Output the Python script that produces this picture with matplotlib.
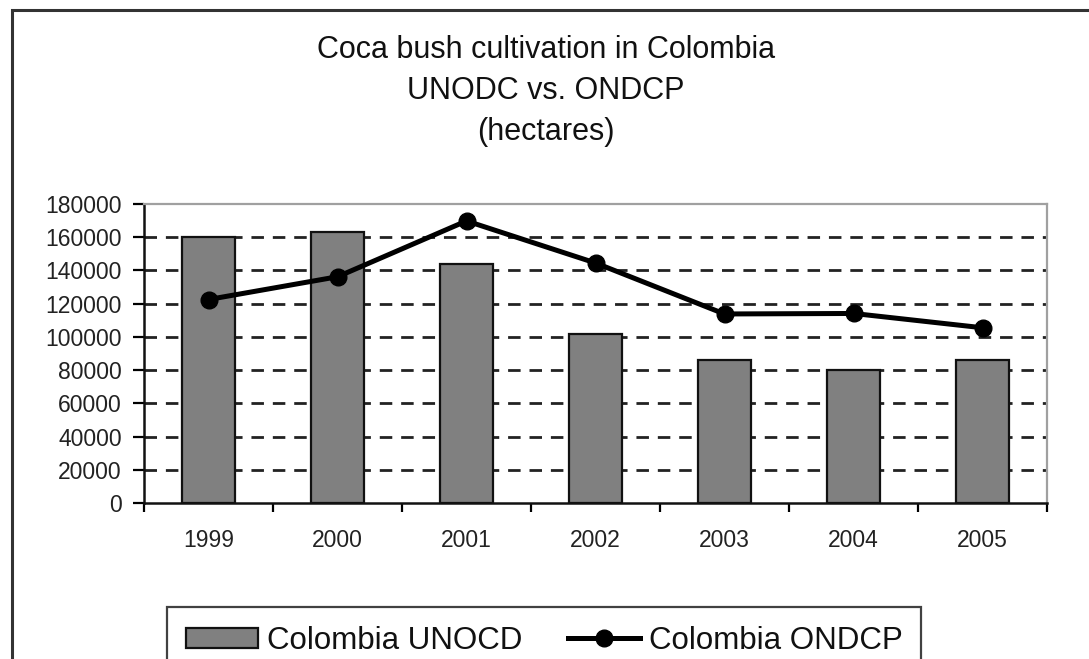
import matplotlib
matplotlib.use("Agg")
import matplotlib.pyplot as plt
import numpy as np
from matplotlib.patches import Rectangle

years = ["1999", "2000", "2001", "2002", "2003", "2004", "2005"]
unodc = [160000, 163000, 144000, 102000, 86000, 80000, 86000]
ondcp = [122500, 136200, 169800, 144500, 113800, 114100, 105500]
yticks = [0, 20000, 40000, 60000, 80000, 100000, 120000, 140000, 160000, 180000]
title_lines = ["Coca bush cultivation in Colombia", "UNODC vs. ONDCP", "(hectares)"]
label_bar = "Colombia UNOCD"
label_line = "Colombia ONDCP"

plt.rcParams['font.family'] = ['Liberation Sans', 'DejaVu Sans']

W, H = 1089, 659
fig = plt.figure(figsize=(W / 100, H / 100), dpi=100)
fig.patch.set_facecolor("white")

def fx(px):
    return px / W

def fy(py):
    return 1 - py / H

# outer chart frame (extends beyond right and bottom edges)
fig.patches.append(Rectangle((fx(12), fy(10) - 2), 2, 2, transform=fig.transFigure,
                             fill=False, edgecolor="#333333", linewidth=2.2))

ax = fig.add_axes([fx(144), fy(503), fx(1047) - fx(144), fy(204) - fy(503)])
x = np.arange(len(years))

bars = ax.bar(x, unodc, width=0.41, color="#808080", edgecolor="#111111", linewidth=1.6,
              zorder=3, label=label_bar)
line, = ax.plot(x, ondcp, color="black", linewidth=3.6, marker="o", markersize=12,
                zorder=4, label=label_line)

ax.set_xlim(-0.5, len(years) - 0.5)
ax.set_ylim(yticks[0], yticks[-1])
ax.set_yticks(yticks)
ax.set_yticklabels([str(v) for v in yticks])
ax.set_xticks(x)
ax.set_xticklabels(years)
ax.set_xticks(np.arange(len(years) + 1) - 0.5, minor=True)

ax.tick_params(axis="y", direction="out", length=8, width=1.6, pad=8,
               labelsize=16.5, colors="black", labelcolor="#222222")
ax.tick_params(axis="x", which="major", length=0, pad=19, labelsize=16.5,
               labelcolor="#222222")
ax.tick_params(axis="x", which="minor", direction="out", length=6.5, width=1.6)

ax.set_axisbelow(True)
ax.yaxis.grid(True, color="#222222", linewidth=2.0, linestyle=(0, (4.5, 3.2)))
gl = ax.get_ygridlines()
gl[0].set_visible(False)
gl[-1].set_visible(False)

for s in ["left", "bottom"]:
    ax.spines[s].set_color("#111111")
    ax.spines[s].set_linewidth(1.8)
for s in ["top", "right"]:
    ax.spines[s].set_color("#a0a0a0")
    ax.spines[s].set_linewidth(1.6)

# title
ys = [58, 99, 140]
for t, yy in zip(title_lines, ys):
    fig.text(fx(546), fy(yy), t, ha="center", va="baseline", fontsize=22,
             color="#111111")

leg = fig.legend([bars, line], [label_bar, label_line],
                 loc="upper left", bbox_to_anchor=(fx(167), fy(607)),
                 bbox_transform=fig.transFigure, ncol=2, fontsize=22.5,
                 frameon=True, fancybox=False, borderaxespad=0,
                 handlelength=2.3, handleheight=0.6, handletextpad=0.3,
                 columnspacing=1.45, borderpad=0.6)
frame = leg.get_frame()
frame.set_edgecolor("#111111")
frame.set_linewidth(1.6)
frame.set_facecolor("white")
for t in leg.get_texts():
    t.set_color("#111111")

fig.savefig("out.png", dpi=100, facecolor="white")
